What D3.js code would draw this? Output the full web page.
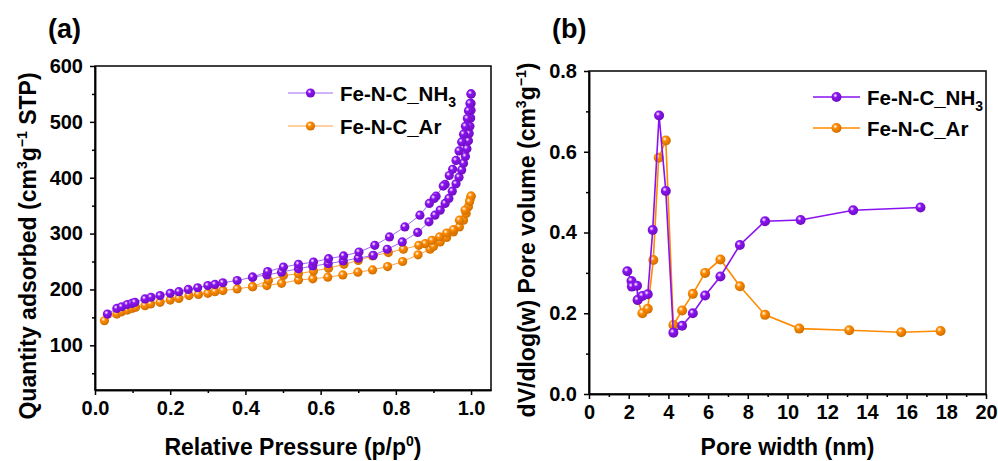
<!DOCTYPE html>
<html><head><meta charset="utf-8">
<script src="https://d3js.org/d3.v7.min.js"></script>
<style>
body{margin:0;background:#fff;}
svg text{font-family:"Liberation Sans",Arial,sans-serif;font-weight:bold;fill:#000;}
.axis path,.axis line{stroke:#000;stroke-width:1.5;}
.axis text{font-size:20px;}
</style></head>
<body><svg id="chart" width="998" height="461"></svg>
<script>
// (a) N2 isotherms: [p/p0, quantity]
var nh3Ads=[[0.033,156],[0.058,166],[0.071,169],[0.086,173],[0.098,175],[0.106,177],[0.133,183],[0.149,186],[0.173,189],[0.2,193],[0.223,196],[0.248,200],[0.273,203],[0.3,207],[0.319,209],[0.34,212],[0.378,216],[0.419,222],[0.457,226],[0.496,231],[0.541,237],[0.579,242],[0.62,246],[0.66,251],[0.7,256],[0.74,261],[0.777,272],[0.817,285],[0.858,302],[0.888,321],[0.904,333],[0.918,342],[0.931,354],[0.941,363],[0.95,376],[0.96,389],[0.968,401],[0.975,414],[0.98,426],[0.985,438],[0.989,452],[0.993,466],[0.995,479],[0.997,492],[0.999,507],[1.0,521],[1.0,533],[1.0,550]];
var nh3Des=[[1.0,550],[0.997,533],[0.993,520],[0.99,506],[0.985,492],[0.98,478],[0.975,464],[0.968,448],[0.96,431],[0.951,415],[0.942,404],[0.931,388],[0.926,385],[0.907,367],[0.902,363],[0.889,354],[0.864,333],[0.824,312],[0.783,294],[0.744,279],[0.702,267],[0.661,260],[0.621,255],[0.581,249],[0.541,245],[0.501,240],[0.459,232],[0.419,222]];
var arAds=[[0.025,144],[0.058,156],[0.071,160],[0.086,163],[0.098,166],[0.108,168],[0.133,171],[0.148,174],[0.173,177],[0.2,181],[0.223,184],[0.25,189],[0.275,191],[0.3,193],[0.319,196],[0.34,198],[0.378,201],[0.419,205],[0.457,207],[0.496,211],[0.541,217],[0.579,219],[0.619,222],[0.659,226],[0.699,231],[0.738,235],[0.778,241],[0.818,250],[0.859,262],[0.891,272],[0.9,277],[0.918,285],[0.935,293],[0.953,303],[0.969,312],[0.98,324],[0.987,336],[0.993,348],[0.997,360],[1.0,367]];
var arDes=[[1.0,367],[0.996,357],[0.984,342],[0.969,324],[0.953,307],[0.935,301],[0.916,294],[0.896,288],[0.878,282],[0.861,279],[0.82,272],[0.78,266],[0.738,260],[0.7,252],[0.662,245],[0.621,238],[0.581,233],[0.541,228],[0.501,225],[0.461,216],[0.419,205]];
// (b) pore size distribution: [width nm, dV/dlog(w)]
var nh3Pore=[[1.93,0.304],[2.14,0.28],[2.16,0.266],[2.42,0.268],[2.45,0.233],[2.69,0.243],[2.96,0.247],[3.21,0.406],[3.53,0.69],[3.87,0.503],[4.25,0.152],[4.69,0.169],[5.23,0.2],[5.85,0.244],[6.62,0.291],[7.6,0.369],[8.87,0.428],[10.66,0.431],[13.31,0.455],[16.7,0.462]];
var arPore=[[2.45,0.233],[2.69,0.2],[2.96,0.211],[3.24,0.332],[3.51,0.585],[3.87,0.628],[4.25,0.171],[4.69,0.207],[5.23,0.248],[5.85,0.3],[6.62,0.333],[7.6,0.267],[8.87,0.196],[10.59,0.162],[13.11,0.158],[15.73,0.153],[17.71,0.156]];
var aXTicks=[0,0.2,0.4,0.6,0.8,1.0], aYTicks=[100,200,300,400,500,600];
var bXTicks=d3.range(0,21,2), bYTicks=[0,0.2,0.4,0.6,0.8];
var purple='#8a12f0', orange='#ff8a00';

var svg=d3.select('#chart');
var defs=svg.append('defs');
function grad(id,c){
  var g=defs.append('radialGradient').attr('id',id).attr('cx','38%').attr('cy','35%').attr('r','65%');
  g.append('stop').attr('offset','0%').attr('stop-color','#fff');
  g.append('stop').attr('offset','35%').attr('stop-color',c);
  g.append('stop').attr('offset','100%').attr('stop-color',d3.color(c).darker(0.6));
}
grad('gp',purple); grad('go',orange);

function panel(o){
  var g=svg.append('g');
  var x=d3.scaleLinear().domain(o.xd).range([o.l,o.r]);
  var y=d3.scaleLinear().domain(o.yd).range([o.b,o.t]);
  // minor ticks
  g.append('g').attr('class','axis').attr('transform','translate(0,'+o.b+')')
   .call(d3.axisBottom(x).tickValues(o.xMinor).tickSize(3).tickSizeOuter(0).tickFormat(''));
  g.append('g').attr('class','axis').attr('transform','translate('+o.l+',0)')
   .call(d3.axisLeft(y).tickValues(o.yMinor).tickSize(3).tickSizeOuter(0).tickFormat(''));
  g.append('g').attr('class','axis').attr('transform','translate(0,'+o.b+')')
   .call(d3.axisBottom(x).tickValues(o.xt).tickSize(5).tickSizeOuter(0).tickPadding(6).tickFormat(o.xf));
  g.append('g').attr('class','axis').attr('transform','translate('+o.l+',0)')
   .call(d3.axisLeft(y).tickValues(o.yt).tickSize(5).tickSizeOuter(0).tickPadding(7).tickFormat(o.yf));
  g.append('rect').attr('x',o.l).attr('y',o.t).attr('width',o.r-o.l).attr('height',o.b-o.t)
   .attr('fill','none').attr('stroke','#000').attr('stroke-width',1.5);
  var line=d3.line().x(d=>x(d[0])).y(d=>y(d[1]));
  // draw in reverse so the first series sits on top
  o.series.slice().reverse().forEach(function(s){
    s.data.forEach(function(arr){
      g.append('path').attr('d',line(arr)).attr('fill','none')
       .attr('stroke',s.lc).attr('stroke-width',o.lw);
    });
    s.data.forEach(function(arr){
      g.selectAll(null).data(arr).enter().append('circle')
       .attr('cx',d=>x(d[0])).attr('cy',d=>y(d[1])).attr('r',o.mr)
       .attr('fill','url(#'+s.gid+')');
    });
  });
  // legend
  o.series.forEach(function(s,i){
    var ly=o.legY+i*o.legDy;
    g.append('line').attr('x1',o.legX).attr('x2',o.legX+o.legW).attr('y1',ly).attr('y2',ly)
     .attr('stroke',s.lc).attr('stroke-width',o.lw);
    g.append('circle').attr('cx',o.legX+o.legW/2).attr('cy',ly).attr('r',o.mr).attr('fill','url(#'+s.gid+')');
    var t=g.append('text').attr('x',o.legX+o.legW+7).attr('y',ly+7.5).style('font-size','20.5px');
    t.append('tspan').text(s.name);
    if(s.sub){t.append('tspan').attr('dy',6).style('font-size','14px').text(s.sub);}
  });
  g.append('text').attr('x',o.lblX).attr('y',38).style('font-size','27px').text(o.lbl);
  g.append('text').attr('x',(o.l+o.r)/2).attr('y',455).attr('text-anchor','middle')
   .style('font-size','23px').call(o.xTitle);
  g.append('text').attr('transform','translate('+o.yTx+','+o.yTy+') rotate(-90)')
   .attr('text-anchor','middle').style('font-size','23px').call(o.yTitle);
}

panel({l:95,r:491,t:66,b:390,xd:[0,1.053],yd:[20,600],
  xt:aXTicks,yt:aYTicks,xMinor:[0.1,0.3,0.5,0.7,0.9],yMinor:[50,150,250,350,450,550],
  xf:d3.format('.1f'),yf:d3.format('d'),lw:1,mr:4.6,
  series:[{name:'Fe-N-C_NH',sub:'3',lc:'#a066f2',gid:'gp',data:[nh3Ads,nh3Des]},
          {name:'Fe-N-C_Ar',lc:'#ffa040',gid:'go',data:[arAds,arDes]}],
  legX:288,legW:45,legY:93,legDy:33,lbl:'(a)',lblX:48,
  yTx:36,yTy:246,
  xTitle:function(t){t.append('tspan').text('Relative Pressure (p/p');
    t.append('tspan').attr('dy',-9).style('font-size','14px').text('0');
    t.append('tspan').attr('dy',9).text(')');},
  yTitle:function(t){t.append('tspan').text('Quantity adsorbed (cm');
    t.append('tspan').attr('dy',-9).style('font-size','14px').text('3');
    t.append('tspan').attr('dy',9).text('g');
    t.append('tspan').attr('dy',-9).style('font-size','14px').text('\u22121');
    t.append('tspan').attr('dy',9).text(' STP)');}
});

panel({l:589,r:986,t:71,b:394,xd:[0,20],yd:[0,0.8],
  xt:bXTicks,yt:bYTicks,xMinor:d3.range(1,20,2),yMinor:[0.1,0.3,0.5,0.7],
  xf:d3.format('d'),yf:d3.format('.1f'),lw:1.6,mr:5,
  series:[{name:'Fe-N-C_NH',sub:'3',lc:purple,gid:'gp',data:[nh3Pore]},
          {name:'Fe-N-C_Ar',lc:orange,gid:'go',data:[arPore]}],
  legX:813,legW:47,legY:97,legDy:31,lbl:'(b)',lblX:552,
  yTx:535,yTy:240,
  xTitle:function(t){t.text('Pore width (nm)');},
  yTitle:function(t){t.append('tspan').text('dV/dlog(w) Pore volume (cm');
    t.append('tspan').attr('dy',-9).style('font-size','14px').text('3');
    t.append('tspan').attr('dy',9).text('g');
    t.append('tspan').attr('dy',-9).style('font-size','14px').text('\u22121');
    t.append('tspan').attr('dy',9).text(')');}
});
</script></body></html>
